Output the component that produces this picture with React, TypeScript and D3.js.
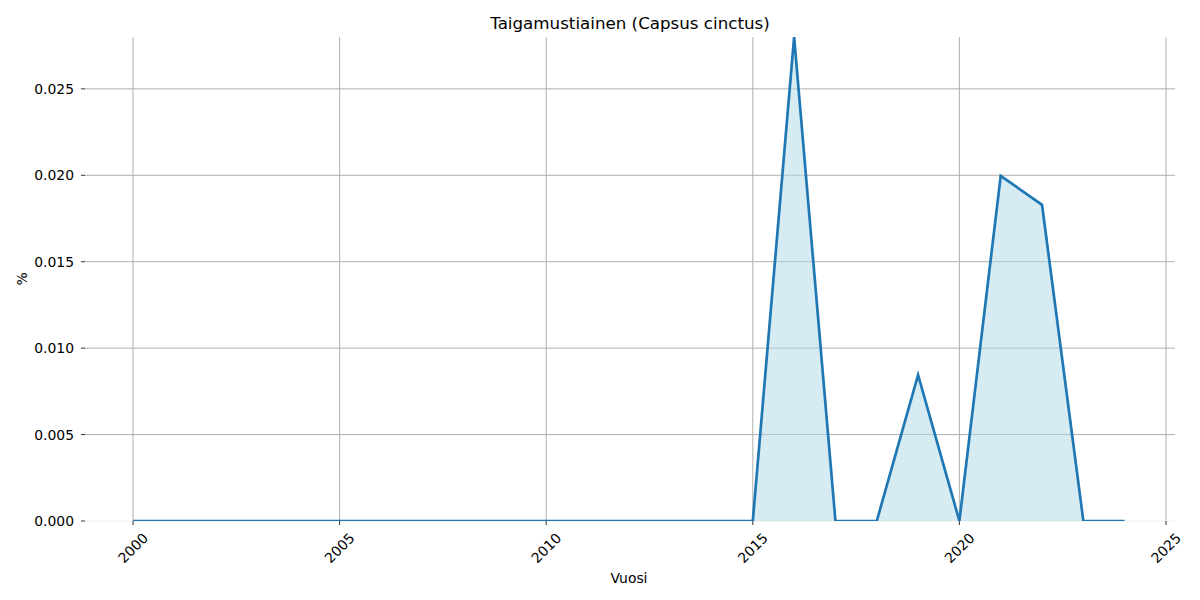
import React from "react";
import * as d3 from "d3";

const years = [2000,2001,2002,2003,2004,2005,2006,2007,2008,2009,2010,2011,2012,2013,2014,2015,2016,2017,2018,2019,2020,2021,2022,2023,2024];
const values = [0,0,0,0,0,0,0,0,0,0,0,0,0,0,0,0,0.028,0,0,0.00845,0,0.01997,0.01829,0,0];
const xTicks = [2000,2005,2010,2015,2020,2025];
const yTicks = [0,0.005,0.01,0.015,0.02,0.025];

export default function App() {
  const W = 1200, H = 600;
  const left = 85, right = 1175, top = 37, bottom = 521;
  const x = d3.scaleLinear().domain([2000, 2025]).range([133, 1166]);
  const y = d3.scaleLinear().domain([0, 0.028]).range([bottom, top]);
  const data = years.map((yr, i) => ({ yr, v: values[i] }));
  const line = d3.line<any>().x(d => x(d.yr)).y(d => y(d.v));
  const area = d3.area<any>().x(d => x(d.yr)).y0(y(0)).y1(d => y(d.v));
  const font = "DejaVu Sans, sans-serif";
  return (
    <svg width={W} height={H} style={{ position: "absolute", left: 0, top: 0, background: "#fff" }} fontFamily={font}>
      <defs>
        <clipPath id="plotclip">
          <rect x={left} y={top} width={right - left} height={bottom - top} />
        </clipPath>
      </defs>
      <rect width={W} height={H} fill="#fff" />
      {xTicks.map(t => (
        <line key={"gx" + t} x1={x(t)} x2={x(t)} y1={top} y2={bottom} stroke="#b0b0b0" strokeWidth={1} />
      ))}
      {yTicks.map(t => (
        <line key={"gy" + t} x1={left} x2={right} y1={y(t)} y2={y(t)} stroke={t === 0 ? "#eeeeee" : "#b0b0b0"} strokeWidth={1} />
      ))}
      <g clipPath="url(#plotclip)">
        <path d={area(data) || ""} fill="#add8e6" fillOpacity={0.5} />
        <path d={line(data) || ""} fill="none" stroke="#1f77b4" strokeWidth={2.7} strokeLinejoin="miter" />
      </g>
      {yTicks.map(t => (
        <g key={"ty" + t}>
          <line x1={left - 4} x2={left} y1={y(t)} y2={y(t)} stroke="#000" strokeWidth={0.8} />
          <text x={left - 11} y={y(t)} textAnchor="end" dominantBaseline="central" fontSize={13.9} fill="#000">{t.toFixed(3)}</text>
        </g>
      ))}
      {xTicks.map(t => (
        <g key={"tx" + t}>
          <line x1={x(t)} x2={x(t)} y1={bottom} y2={bottom + 4} stroke="#000" strokeWidth={0.8} />
          <text x={x(t)} y={548} textAnchor="middle" dominantBaseline="central" fontSize={13.9} fill="#000" transform={`rotate(-45, ${x(t)}, 548)`}>{t}</text>
        </g>
      ))}
      <text x={(left + right) / 2} y={23} textAnchor="middle" dominantBaseline="central" fontSize={16.7} fill="#000">Taigamustiainen (Capsus cinctus)</text>
      <text x={629} y={578} textAnchor="middle" dominantBaseline="central" fontSize={13.9} fill="#000">Vuosi</text>
      <text x={22} y={279} textAnchor="middle" dominantBaseline="central" fontSize={13.9} fill="#000" transform="rotate(-90, 22, 279)">%</text>
    </svg>
  );
}
